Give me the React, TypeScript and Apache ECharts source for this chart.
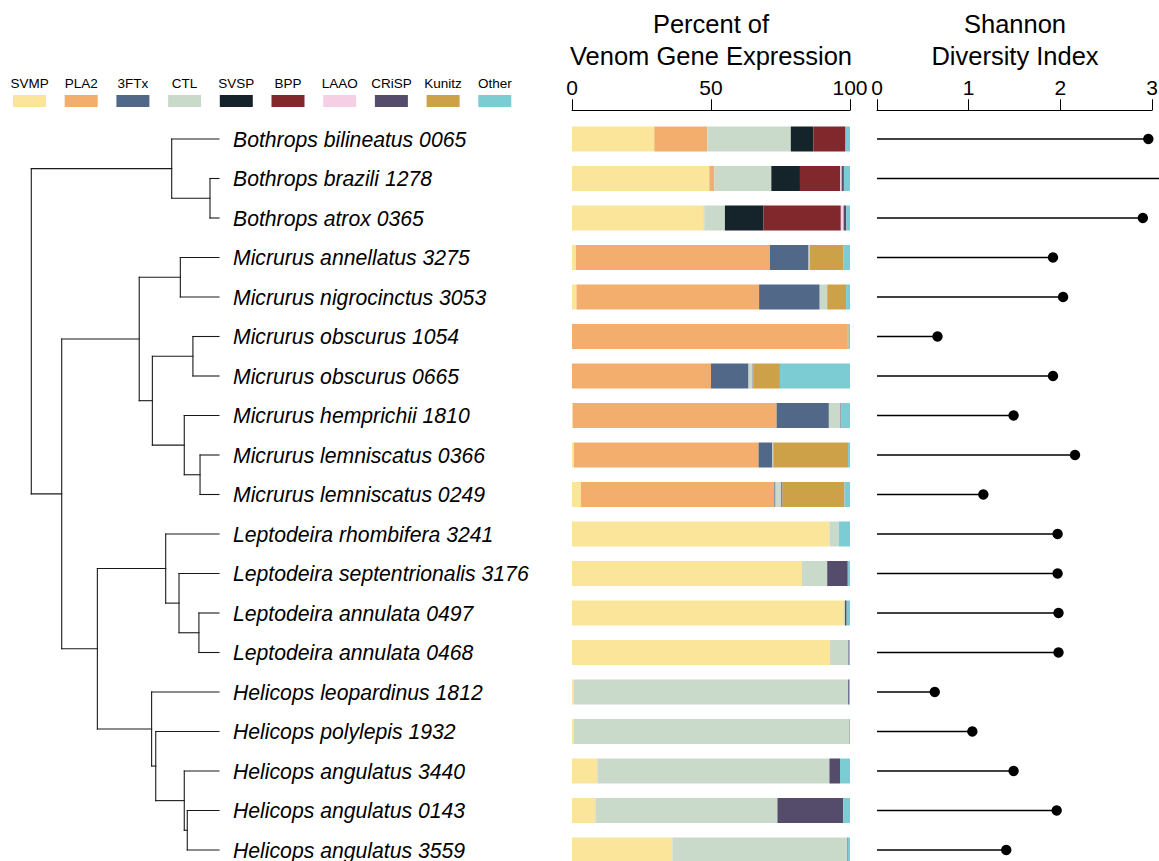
import React, { useEffect, useRef } from "react";
import * as echarts from "echarts";

const FONT = "'Liberation Sans', Arial, Helvetica, sans-serif";

const species = [
  "Bothrops bilineatus 0065",
  "Bothrops brazili 1278",
  "Bothrops atrox 0365",
  "Micrurus annellatus 3275",
  "Micrurus nigrocinctus 3053",
  "Micrurus obscurus 1054",
  "Micrurus obscurus 0665",
  "Micrurus hemprichii 1810",
  "Micrurus lemniscatus 0366",
  "Micrurus lemniscatus 0249",
  "Leptodeira rhombifera 3241",
  "Leptodeira septentrionalis 3176",
  "Leptodeira annulata 0497",
  "Leptodeira annulata 0468",
  "Helicops leopardinus 1812",
  "Helicops polylepis 1932",
  "Helicops angulatus 3440",
  "Helicops angulatus 0143",
  "Helicops angulatus 3559",
];

const toxinClasses = ["SVMP", "PLA2", "3FTx", "CTL", "SVSP", "BPP", "LAAO", "CRiSP", "Kunitz", "Other"];
const toxinColors = ["#FAE59A", "#F3AE6D", "#516888", "#C9DACB", "#15232B", "#80282C", "#F5D0E4", "#554B6B", "#CDA147", "#7BCCD3"];

// percent of venom gene expression, one array per toxin class, in species order
const svmp = [29.6, 49.4, 47.4, 1.4, 1.6, 0, 0, 0.3, 0.7, 3.2, 92.6, 82.7, 97.6, 92.8, 0.7, 0.6, 9.1, 8.4, 36.1];
const pla2 = [19.1, 1.8, 0.2, 69.8, 65.7, 99.2, 50.0, 73.3, 66.4, 69.6, 0, 0, 0, 0, 0, 0, 0, 0, 0];
const ftx3 = [0, 0, 0, 13.9, 21.8, 0, 13.5, 18.8, 5.0, 0.4, 0, 0, 0, 0, 0, 0, 0, 0, 0];
const ctl = [30.0, 20.5, 7.4, 0.4, 2.7, 0, 1.5, 4.2, 0.3, 2.1, 3.4, 9.1, 0.6, 6.6, 98.6, 99.0, 83.5, 65.5, 62.9];
const svsp = [8.1, 10.3, 13.9, 0, 0, 0, 0, 0, 0, 0, 0, 0, 0, 0, 0, 0, 0, 0, 0];
const bpp = [11.4, 14.5, 27.8, 0, 0, 0, 0, 0, 0, 0, 0, 0, 0, 0, 0, 0, 0, 0, 0];
const laao = [0, 0.5, 1.0, 0, 0, 0, 0, 0, 0, 0, 0, 0, 0, 0, 0, 0, 0, 0, 0];
const crisp = [0.2, 0.8, 1.0, 0, 0, 0, 0.2, 0.2, 0, 0.4, 0, 7.4, 0.6, 0.2, 0.3, 0, 3.8, 23.7, 0.2];
const kunitz = [0, 0, 0, 12.2, 6.8, 0.3, 9.6, 0, 26.9, 22.3, 0, 0, 0, 0, 0, 0, 0, 0, 0];
const other = [1.6, 2.2, 1.3, 2.3, 1.4, 0.5, 25.2, 3.2, 0.7, 2.0, 4.0, 0.8, 1.2, 0.4, 0.4, 0.4, 3.6, 2.4, 0.8];
const expression = [svmp, pla2, ftx3, ctl, svsp, bpp, laao, crisp, kunitz, other];

// Shannon diversity index per species
const shannon = [2.96, 3.2, 2.9, 1.92, 2.03, 0.66, 1.92, 1.49, 2.16, 1.16, 1.97, 1.97, 1.98, 1.98, 0.63, 1.04, 1.49, 1.96, 1.41];

const pctTicks = [0, 50, 100];
const shannonTicks = [0, 1, 2, 3];

// phylogeny: internal nodes, relative depth (root 0, tips 1), children (numbers = tip index)
const nodeIds = ["root", "bothrops", "brazAtrox", "rest", "micrurus", "annNig", "obsHemLem", "obscurus", "hemLem", "lemn", "colubrid", "lepto", "septAnn", "annulata", "helicops", "polyAng", "ang3440", "ang0143"];
const nodeDepths = [0, 0.748, 0.952, 0.162, 0.575, 0.794, 0.645, 0.861, 0.815, 0.899, 0.352, 0.716, 0.787, 0.893, 0.641, 0.663, 0.815, 0.831];
const nodeKids: (string | number)[][] = [
  ["bothrops", "rest"],
  [0, "brazAtrox"],
  [1, 2],
  ["micrurus", "colubrid"],
  ["annNig", "obsHemLem"],
  [3, 4],
  ["obscurus", "hemLem"],
  [5, 6],
  [7, "lemn"],
  [8, 9],
  ["lepto", "helicops"],
  [10, "septAnn"],
  [11, "annulata"],
  [12, 13],
  [14, "polyAng"],
  [15, "ang3440"],
  [16, "ang0143"],
  [17, 18],
];

function buildTreeSegments(): number[][] {
  const yCache: Record<string, number> = {};
  const depthOf = (k: string | number) => (typeof k === "number" ? 1 : nodeDepths[nodeIds.indexOf(k)]);
  const yOf = (k: string | number): number => {
    if (typeof k === "number") return k;
    if (yCache[k] !== undefined) return yCache[k];
    const kids = nodeKids[nodeIds.indexOf(k)];
    const v = kids.reduce((s, c) => s + yOf(c), 0) / kids.length;
    yCache[k] = v;
    return v;
  };
  const segs: number[][] = [];
  nodeIds.forEach((id, i) => {
    const d = nodeDepths[i];
    const ys = nodeKids[i].map(yOf);
    segs.push([d, Math.min(...ys), d, Math.max(...ys)]);
    nodeKids[i].forEach((c) => {
      const cy = yOf(c);
      segs.push([d, cy, depthOf(c), cy]);
    });
  });
  return segs;
}

const GRID_TOP = 119.25;
const GRID_H = 750.5;

export default function App() {
  const ref = useRef<HTMLDivElement>(null);

  useEffect(() => {
    if (!ref.current) return;
    const chart = echarts.init(ref.current, null, { renderer: "svg" });
    const treeSegs = buildTreeSegments();

    const legendEls: any[] = [];
    toxinClasses.forEach((name, i) => {
      const x0 = 13 + i * 51.7;
      legendEls.push({
        type: "text",
        x: x0 + 16.5,
        y: 83,
        style: { text: name, fontSize: 13.5, fontFamily: FONT, fill: "#000", align: "center", verticalAlign: "middle" },
      });
      legendEls.push({
        type: "rect",
        shape: { x: x0, y: 95, width: 33, height: 12 },
        style: { fill: toxinColors[i] },
      });
    });

    const titleText = (text: string, x: number, y: number) => ({
      type: "text",
      x,
      y,
      style: { text, fontSize: 25.5, fontFamily: FONT, fill: "#000", align: "center", verticalAlign: "middle" },
    });

    const mkAxis = (gridIndex: number, max: number, interval: number, ticks: number[]) => ({
      type: "value",
      gridIndex,
      position: "top",
      offset: 9,
      min: 0,
      max,
      interval,
      axisLine: { show: true, onZero: false, lineStyle: { color: "#000", width: 1 } },
      axisTick: { show: true, length: 11, lineStyle: { color: "#000", width: 1 } },
      axisLabel: { fontSize: 21, color: "#000", margin: 12, fontFamily: FONT, customValues: ticks },
      splitLine: { show: false },
    });

    chart.setOption({
      animation: false,
      backgroundColor: "#fff",
      textStyle: { fontFamily: FONT },
      grid: [
        { left: 31.3, top: GRID_TOP, width: 187.7, height: GRID_H, outerBoundsMode: "none" },
        { left: 572, top: GRID_TOP, width: 278, height: GRID_H, outerBoundsMode: "none" },
        { left: 877, top: GRID_TOP, width: 275, height: GRID_H, outerBoundsMode: "none" },
      ],
      xAxis: [
        { gridIndex: 0, type: "value", min: 0, max: 1, show: false },
        mkAxis(1, 100, 50, pctTicks),
        mkAxis(2, 3, 1, shannonTicks),
      ],
      yAxis: [
        { gridIndex: 0, type: "value", min: -0.5, max: 18.5, inverse: true, show: false },
        {
          gridIndex: 1,
          type: "category",
          inverse: true,
          data: species,
          axisLine: { show: false },
          axisTick: { show: false },
          splitLine: { show: false },
          axisLabel: {
            interval: 0,
            align: "left",
            margin: 339,
            fontSize: 21.2,
            fontStyle: "italic",
            color: "#000",
            fontFamily: FONT,
          },
        },
        { gridIndex: 2, type: "value", min: -0.5, max: 18.5, inverse: true, show: false },
      ],
      graphic: [
        ...legendEls,
        titleText("Percent of", 711, 24),
        titleText("Venom Gene Expression", 711, 56),
        titleText("Shannon", 1015, 24),
        titleText("Diversity Index", 1015, 56),
      ],
      series: [
        {
          type: "custom",
          xAxisIndex: 0,
          yAxisIndex: 0,
          clip: false,
          data: treeSegs,
          encode: { x: [0, 2], y: [1, 3] },
          renderItem: (_params: any, api: any) => {
            const a = api.coord([api.value(0), api.value(1)]);
            const b = api.coord([api.value(2), api.value(3)]);
            return {
              type: "line",
              shape: { x1: a[0], y1: a[1], x2: b[0], y2: b[1] },
              style: { stroke: "#1a1a1a", lineWidth: 1.1, lineCap: "square" },
            };
          },
        },
        ...toxinClasses.map((name, i) => ({
          type: "bar",
          name,
          xAxisIndex: 1,
          yAxisIndex: 1,
          stack: "venom",
          barWidth: 25,
          itemStyle: { color: toxinColors[i] },
          data: expression[i],
        })),
        {
          type: "custom",
          xAxisIndex: 2,
          yAxisIndex: 2,
          clip: false,
          data: shannon.map((v, i) => [v, i]),
          encode: { x: 0, y: 1 },
          renderItem: (_params: any, api: any) => {
            const p0 = api.coord([0, api.value(1)]);
            const p1 = api.coord([api.value(0), api.value(1)]);
            return {
              type: "group",
              children: [
                {
                  type: "line",
                  shape: { x1: p0[0], y1: p0[1], x2: p1[0], y2: p1[1] },
                  style: { stroke: "#000", lineWidth: 1.3 },
                },
                {
                  type: "circle",
                  shape: { cx: p1[0], cy: p1[1], r: 5.2 },
                  style: { fill: "#000" },
                },
              ],
            };
          },
        },
      ],
    });

    return () => chart.dispose();
  }, []);

  return <div ref={ref} style={{ position: "fixed", left: 0, top: 0, width: 1159, height: 861 }} />;
}
